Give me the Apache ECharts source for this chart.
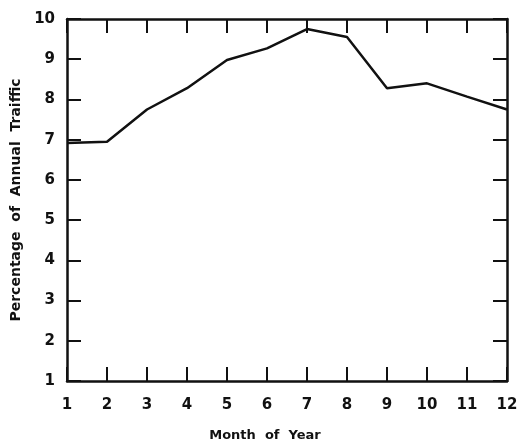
<!DOCTYPE html>
<html><head><meta charset="utf-8">
<script src="https://cdn.jsdelivr.net/npm/echarts@6/dist/echarts.min.js"></script>
<style>html,body{margin:0;padding:0;background:#fff}#c{width:519px;height:445px}</style>
</head><body><div id="c"></div>
<script>
const months = [1,2,3,4,5,6,7,8,9,10,11,12];
const traffic = [6.92,6.95,7.75,8.28,8.98,9.27,9.75,9.55,8.28,8.40,8.07,7.75];
const xTicks = {min:1, max:12, step:1};
const yTicks = {min:1, max:10, step:1};
const xName = 'Month  of  Year';
const yName = 'Percentage  of  Annual  Traiffic';

const chart = echarts.init(document.getElementById('c'));
const lab = {color:'#111', fontFamily:'DejaVu Sans', fontWeight:'bold', fontSize:15};
const axLine = {show:true, lineStyle:{color:'#111', width:2.5}};
const tick = {show:true, inside:true, length:14, lineStyle:{color:'#111', width:2}};
chart.setOption({
  animation:false,
  backgroundColor:'#fff',
  grid:{left:67, right:12, top:19, bottom:64, containLabel:false, outerBoundsMode:'none'},
  xAxis:[
    {type:'value', position:'bottom', min:xTicks.min, max:xTicks.max, interval:xTicks.step,
     axisLine:axLine, axisTick:tick, splitLine:{show:false},
     axisLabel:Object.assign({margin:17}, lab),
     name:xName, nameLocation:'middle', nameGap:48,
     nameTextStyle:{color:'#111', fontFamily:'DejaVu Sans', fontWeight:'bold', fontSize:13, padding:[0,44,0,0]}},
    {type:'value', position:'top', min:xTicks.min, max:xTicks.max, interval:xTicks.step,
     axisLine:axLine, axisTick:tick, splitLine:{show:false}, axisLabel:{show:false}}
  ],
  yAxis:[
    {type:'value', position:'left', min:yTicks.min, max:yTicks.max, interval:yTicks.step,
     axisLine:axLine, axisTick:tick, splitLine:{show:false},
     axisLabel:Object.assign({margin:12}, lab),
     name:yName, nameLocation:'middle', nameGap:43,
     nameTextStyle:{color:'#111', fontFamily:'DejaVu Sans', fontWeight:'bold', fontSize:14}},
    {type:'value', position:'right', min:yTicks.min, max:yTicks.max, interval:yTicks.step,
     axisLine:axLine, axisTick:tick, splitLine:{show:false}, axisLabel:{show:false}}
  ],
  series:[{
    type:'line', data:months.map((m,i)=>[m, traffic[i]]),
    showSymbol:false, symbol:'none',
    lineStyle:{color:'#111', width:2.5}
  }]
});
</script></body></html>
